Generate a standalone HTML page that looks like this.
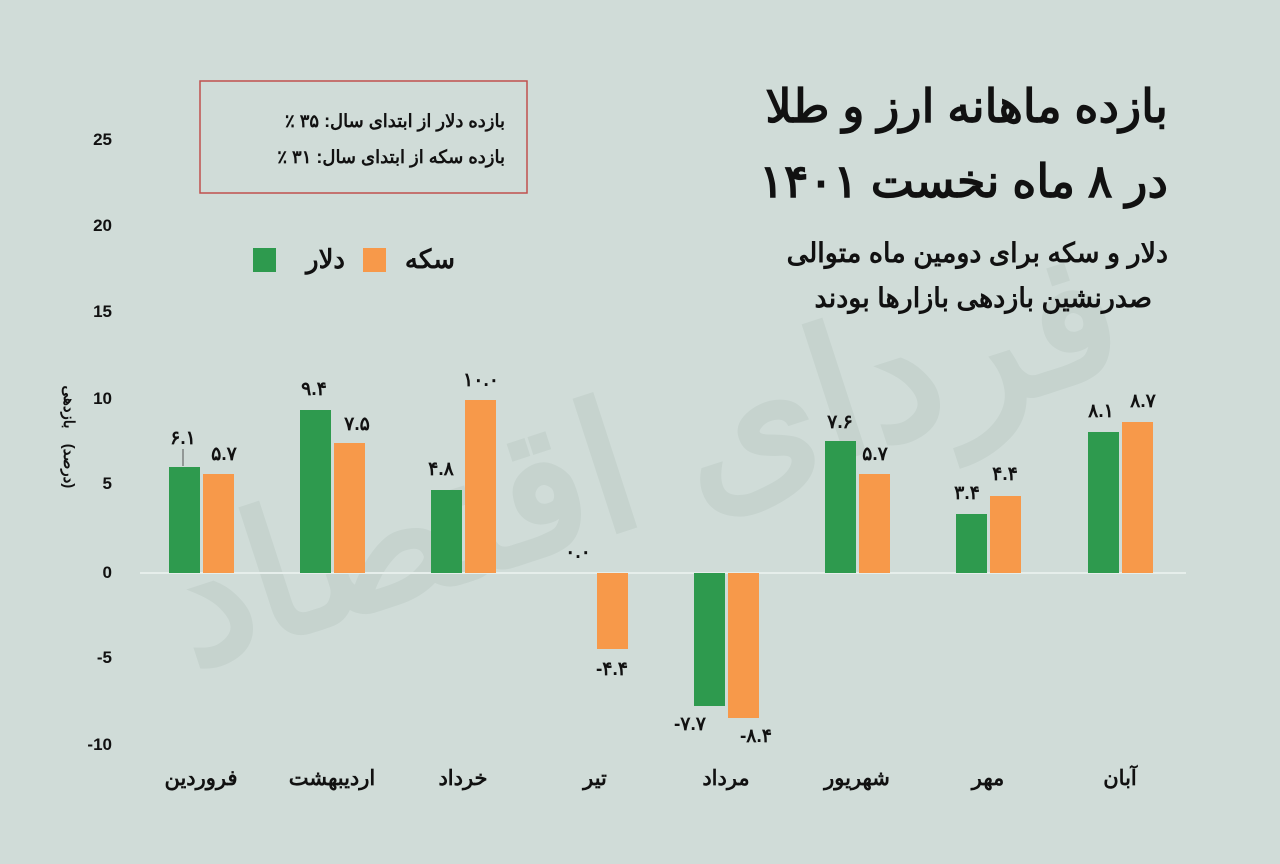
<!DOCTYPE html>
<html><head><meta charset="utf-8"><style>
body{margin:0;width:1280px;height:859px;background:#d0dcd8;overflow:hidden;font-family:"Liberation Sans","Noto Sans CJK SC",sans-serif;}
svg text{font-family:"Liberation Sans","Noto Sans CJK SC",sans-serif;}
.ltr{direction:ltr;unicode-bidi:bidi-override;}
.rtl{direction:rtl;unicode-bidi:embed;}
</style></head><body>
<svg width="1280" height="859" xmlns="http://www.w3.org/2000/svg">
<rect width="1280" height="859" fill="#d0dcd8"/>
<text x="640" y="520" font-size="180" fill="#c2d0cb" text-anchor="middle" font-weight="bold" transform="rotate(-18 640 450)" opacity="0.7">فردای اقتصاد</text>
<g font-size="17" font-weight="bold" fill="#111" text-anchor="end">
<text x="112" y="145">25</text><text x="112" y="231">20</text><text x="112" y="317">15</text>
<text x="112" y="404">10</text><text x="112" y="489">5</text><text x="112" y="578">0</text>
<text x="112" y="663">-5</text><text x="112" y="750">-10</text>
</g>
<text class="rtl" x="0" y="0" font-size="15" font-weight="bold" fill="#111" text-anchor="middle" transform="translate(64 407) rotate(90)">بازدهی</text>
<text class="rtl" x="0" y="0" font-size="15" font-weight="bold" fill="#111" text-anchor="middle" transform="translate(64 466) rotate(90)">(درصد)</text>
<line x1="140" y1="573" x2="1186" y2="573" stroke="#e6eeeb" stroke-width="2"/>
<g fill="#2e9a4e">
<rect x="169" y="467" width="31" height="106"/>
<rect x="300" y="410" width="31" height="163"/>
<rect x="431" y="490" width="31" height="83"/>
<rect x="694" y="573" width="31" height="133"/>
<rect x="825" y="441" width="31" height="132"/>
<rect x="956" y="514" width="31" height="59"/>
<rect x="1088" y="432" width="31" height="141"/>
</g>
<g fill="#f7994a">
<rect x="203" y="474" width="31" height="99"/>
<rect x="334" y="443" width="31" height="130"/>
<rect x="465" y="400" width="31" height="173"/>
<rect x="597" y="573" width="31" height="76"/>
<rect x="728" y="573" width="31" height="145"/>
<rect x="859" y="474" width="31" height="99"/>
<rect x="990" y="496" width="31" height="77"/>
<rect x="1122" y="422" width="31" height="151"/>
</g>
<g font-size="19" font-weight="bold" fill="#111" text-anchor="middle">
<text class="ltr" x="183" y="444">۶.۱</text><text class="ltr" x="224" y="460">۵.۷</text>
<text class="ltr" x="314" y="395">۹.۴</text><text class="ltr" x="357" y="430">۷.۵</text>
<text class="ltr" x="441" y="475">۴.۸</text><text class="ltr" x="481" y="386">۱۰.۰</text>
<text class="ltr" x="578" y="558">۰.۰</text><text class="ltr" x="612" y="675">-۴.۴</text>
<text class="ltr" x="690" y="730">-۷.۷</text><text class="ltr" x="756" y="742">-۸.۴</text>
<text class="ltr" x="840" y="428">۷.۶</text><text class="ltr" x="875" y="460">۵.۷</text>
<text class="ltr" x="967" y="499">۳.۴</text><text class="ltr" x="1005" y="480">۴.۴</text>
<text class="ltr" x="1101" y="417">۸.۱</text><text class="ltr" x="1143" y="407">۸.۷</text>
</g>
<line x1="183" y1="449" x2="183" y2="466" stroke="#555" stroke-width="1"/>
<g font-size="21" font-weight="bold" fill="#111" text-anchor="middle">
<text x="201" y="785">فروردین</text><text x="332" y="785">اردیبهشت</text>
<text x="463" y="785">خرداد</text><text x="595" y="785">تیر</text>
<text x="726" y="785">مرداد</text><text x="857" y="785">شهریور</text>
<text x="988" y="785">مهر</text><text x="1120" y="785">آبان</text>
</g>
<rect x="200" y="81" width="327" height="112" fill="none" stroke="#c0504d" stroke-width="1.5"/>
<g font-size="18" font-weight="bold" fill="#111">
<text class="rtl" x="505" y="127" text-anchor="start">بازده دلار از ابتدای سال: ۳۵ ٪</text>
<text class="rtl" x="505" y="163" text-anchor="start">بازده سکه از ابتدای سال: ۳۱ ٪</text>
</g>
<rect x="253" y="248" width="23" height="24" fill="#2e9a4e"/>
<text x="345" y="268" font-size="26" font-weight="bold" text-anchor="end" fill="#111">دلار</text>
<rect x="363" y="248" width="23" height="24" fill="#f7994a"/>
<text x="455" y="268" font-size="26" font-weight="bold" text-anchor="end" fill="#111">سکه</text>
<g font-weight="bold" fill="#111">
<text class="rtl" x="1168" y="122" font-size="46" text-anchor="start">بازده ماهانه ارز و طلا</text>
<text class="rtl" x="1168" y="197" font-size="46" text-anchor="start">در ۸ ماه نخست ۱۴۰۱</text>
<text class="rtl" x="1168" y="262" font-size="27" text-anchor="start">دلار و سکه برای دومین ماه متوالی</text>
<text class="rtl" x="1152" y="307" font-size="27" text-anchor="start">صدرنشین بازدهی بازارها بودند</text>
</g>
</svg>
</body></html>
